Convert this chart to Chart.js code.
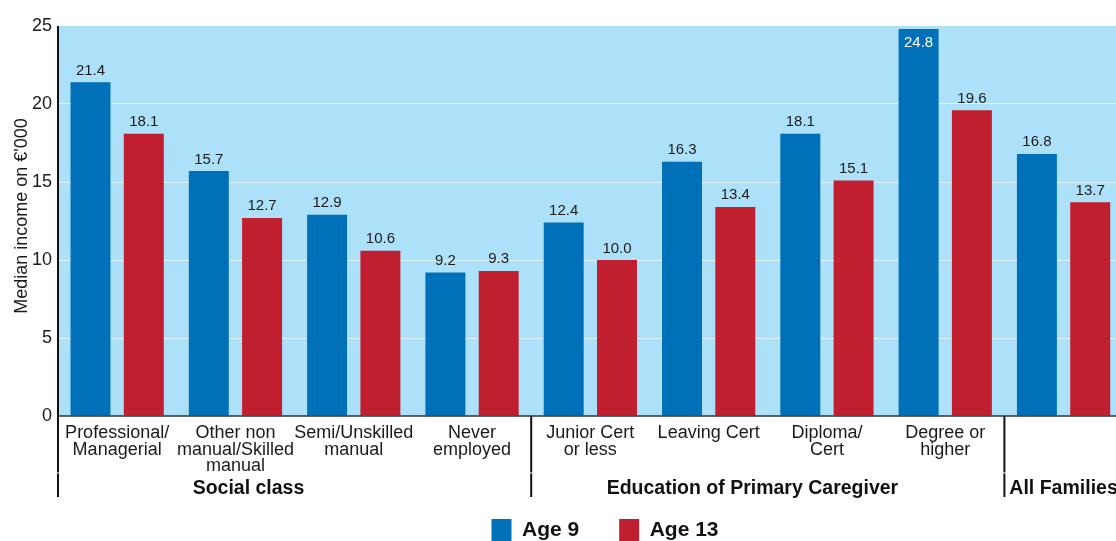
<!DOCTYPE html>
<html><head><meta charset="utf-8">
<style>
html,body{margin:0;padding:0;overflow:hidden;background:#fff;width:1116px;height:541px}
canvas{display:block}
</style>
<script src="https://cdn.jsdelivr.net/npm/chart.js@4/dist/chart.umd.min.js"></script>
</head><body>
<canvas id="c" width="1140" height="551"></canvas>
<script>
const categories = [["Professional/","Managerial"],["Other non","manual/Skilled","manual"],["Semi/Unskilled","manual"],["Never","employed"],["Junior Cert","or less"],["Leaving Cert"],["Diploma/","Cert"],["Degree or","higher"],""];
const seriesNames = ["Age 9","Age 13"];
const age9 = [21.4,15.7,12.9,9.2,12.4,16.3,18.1,24.8,16.8];
const age13 = [18.1,12.7,10.6,9.3,10.0,13.4,15.1,19.6,13.7];
const yTicks = [0,5,10,15,20,25];
const groupNames = ["Social class","Education of Primary Caregiver","All Families"];
const groupFirst = [0,4,8];
const groupLast = [3,7,8];
const yTitle = "Median income on €'000";

const FONT = "'Liberation Sans', Arial, Helvetica, sans-serif";
const GROUP_SHIFT = [-0.39,-0.13,0];

const deco = {
  id:'deco',
  afterLayout(chart){
    const lg = chart.legend; if(!lg) return;
    const dx = 605 - (lg.left+lg.right)/2;
    lg.left += dx; lg.right += dx;
  },
  beforeDraw(chart){
    const {ctx, chartArea:a} = chart;
    ctx.save(); ctx.fillStyle = '#ade0f9';
    ctx.fillRect(a.left, a.top, chart.width - a.left, a.bottom - a.top);
    ctx.restore();
  },
  afterDatasetsDraw(chart){
    const ctx = chart.ctx, top = chart.chartArea.top;
    ctx.save();
    ctx.font = `15px ${FONT}`; ctx.textAlign = 'center'; ctx.textBaseline = 'alphabetic';
    [age9, age13].forEach((vals, di) => {
      chart.getDatasetMeta(di).data.forEach((bar, i) => {
        let y = bar.y - 7.5, col = '#1a1a1a';
        if (y - 11 < top) { y = bar.y + 18; col = '#ffffff'; }
        ctx.fillStyle = col;
        ctx.fillText(vals[i].toFixed(1), bar.x, y);
      });
    });
    ctx.restore();
  },
  afterDraw(chart){
    const ctx = chart.ctx, a = chart.chartArea, xs = chart.scales.x;
    ctx.save();
    ctx.strokeStyle = '#333'; ctx.lineWidth = 1.5;
    ctx.beginPath(); ctx.moveTo(a.left, a.bottom); ctx.lineTo(chart.width, a.bottom); ctx.stroke();
    ctx.strokeStyle = '#111'; ctx.lineWidth = 2;
    const vline = (px, y0, y1) => { ctx.beginPath(); ctx.moveTo(px, y0); ctx.lineTo(px, y1); ctx.stroke(); };
    const gapY = a.bottom + 57, endY = a.bottom + 81;
    vline(a.left, a.top, gapY - 0.5); vline(a.left, gapY + 0.5, endY);
    for (let g = 1; g < groupFirst.length; g++) {
      const px = xs.getPixelForValue(groupFirst[g] - 0.5);
      vline(px, a.bottom, gapY - 0.5); vline(px, gapY + 0.5, endY);
    }
    ctx.fillStyle = '#111'; ctx.font = `bold 19.5px ${FONT}`; ctx.textAlign = 'center'; ctx.textBaseline = 'alphabetic';
    groupNames.forEach((n, g) => {
      const px = xs.getPixelForValue((groupFirst[g] + groupLast[g]) / 2 + GROUP_SHIFT[g]);
      ctx.fillText(n, px, a.bottom + 78);
    });
    ctx.translate(27, (a.top + a.bottom) / 2 - 5);
    ctx.rotate(-Math.PI / 2);
    ctx.font = `18px ${FONT}`; ctx.fillStyle = '#1a1a1a';
    ctx.fillText(yTitle, 0, 0);
    ctx.restore();
  }
};

new Chart(document.getElementById('c'), {
  type: 'bar',
  data: {
    labels: categories,
    datasets: [
      {label: seriesNames[0], data: age9, backgroundColor: '#0070b8', borderWidth: 0},
      {label: seriesNames[1], data: age13, backgroundColor: '#c01f2f', borderWidth: 0}
    ]
  },
  options: {
    responsive: false,
    animation: false,
    layout: {padding: {top: 26, right: 17.3, left: 0, bottom: 0}},
    datasets: {bar: {categoryPercentage: 0.901, barPercentage: 0.75}},
    plugins: {
      tooltip: {enabled: false},
      legend: {
        position: 'bottom',
        labels: {boxWidth: 20, boxHeight: 22, padding: 40, color: '#111',
          font: {family: FONT, size: 21, weight: 'bold'}}
      }
    },
    scales: {
      x: {
        grid: {display: false},
        border: {display: false},
        ticks: {color: '#1a1a1a', padding: 1, maxRotation: 0, minRotation: 0, autoSkip: false,
          font: {family: FONT, size: 18, lineHeight: 0.917}},
        afterFit: s => { s.height = 63; }
      },
      y: {
        min: 0, max: 25,
        grid: {drawTicks: false, lineWidth: 1,
          color: c => (c.tick && (c.tick.value === 0 || c.tick.value === 25)) ? 'rgba(0,0,0,0)' : 'rgba(255,255,255,0.6)'},
        border: {display: false},
        afterBuildTicks: s => { s.ticks = yTicks.map(v => ({value: v})); },
        ticks: {color: '#1a1a1a', padding: 6, font: {family: FONT, size: 18}},
        afterFit: s => { s.width = 58; }
      }
    }
  },
  plugins: [deco]
});
</script>
</body></html>
